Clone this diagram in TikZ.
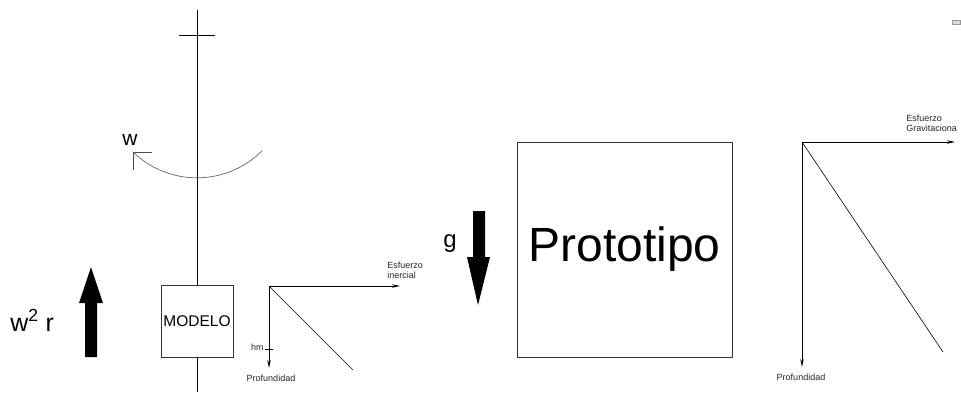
\documentclass[tikz,border=0pt]{standalone}
\usepackage{fontspec}
\setmainfont{Liberation Sans}
\usetikzlibrary{arrows.meta}
\begin{document}
\begin{tikzpicture}[x=1pt,y=-1pt,
  line width=0.8pt,
  frame/.style={draw=black!80, line width=0.9pt, inner sep=0pt},
  axis/.style={draw=black, line width=0.9pt, -{Stealth[length=8pt,width=3.5pt]}},
  lbl/.style={font=\fontsize{9}{10}\selectfont, text=black!85, inner sep=0pt},
  bigtext/.style={inner sep=0pt, text=black}]
\useasboundingbox (0,0) rectangle (961,392);

% ---- centrifuge model: spin axis and box ----
\node[frame, minimum width=72pt, minimum height=72pt] (modelo) at (197,321)
  {\fontsize{15.5}{16}\selectfont MODELO};
\coordinate (top) at (197,10);
\coordinate (bot) at (197,392);
\draw (top) -- (modelo.north);
\draw (modelo.south) -- (bot);
\coordinate (barL) at (179,35);
\coordinate (barR) at (215,35);
\draw (barL) -- (barR);

% rotation arc with its corner tip
\coordinate (wtip) at (133,152);
\draw[black!60, line width=0.7pt] (wtip) arc[start angle=134, end angle=45, radius=92];
\draw[black!70, line width=0.7pt] (133,170) -- (wtip) -- (152,152);
\node[bigtext, font=\fontsize{21}{21}\selectfont] (wlbl) at (130,140) {w};

% centrifugal acceleration
\node[bigtext, anchor=base west, font=\fontsize{25}{25}\selectfont] (w2r) at (10,331)
  {w\textsuperscript{2} r};
\fill[black] (85,357) -- (85,303) -- (79,303) -- (91,267) -- (103,303) -- (97,303) -- (97,357) -- cycle;

% ---- model stress profile ----
\coordinate (o1) at (269,286);
\coordinate (x1) at (400,286);
\coordinate (y1) at (269,368);
\coordinate (d1) at (353,370);
\draw[axis] (o1) -- (x1);
\draw[axis] (o1) -- (y1);
\draw[line width=0.6pt] (o1) -- (d1);
\coordinate (hmL) at (265,349);
\coordinate (hmR) at (273,349);
\draw[line width=0.7pt] (hmL) -- (hmR);
\node[lbl, anchor=base east] (hm) at (264,350) {hm};
\node[lbl] (prof1) at (271,378) {Profundidad};
\node[lbl, anchor=north west, align=left] (esf1) at (387,262) {Esfuerzo\\inercial};

% ---- gravity ----
\node[bigtext, font=\fontsize{24}{24}\selectfont] (glbl) at (450,244) {g};
\fill[black] (473,211) -- (485,211) -- (485,257) -- (490,257) -- (478,305) -- (467,257) -- (473,257) -- cycle;

% ---- prototype ----
\node[frame, minimum width=215pt, minimum height=215pt] (proto) at (624.5,249.5)
  {\fontsize{48}{48}\selectfont Prototipo};

% ---- prototype stress profile ----
\coordinate (o2) at (802,142);
\coordinate (x2) at (955,142);
\coordinate (y2) at (802,367);
\coordinate (d2) at (943,352);
\draw[axis] (o2) -- (x2);
\draw[axis] (o2) -- (y2);
\draw[line width=0.6pt] (o2) -- (d2);
\node[lbl] (prof2) at (801,377) {Profundidad};
\node[lbl, anchor=north west, align=left] (esf2) at (906,115) {Esfuerzo\\Gravitaciona};

% small mark in the corner
\draw[black!40, fill=black!15, line width=0.6pt] (952,20) rectangle (960,24);
\end{tikzpicture}
\end{document}
